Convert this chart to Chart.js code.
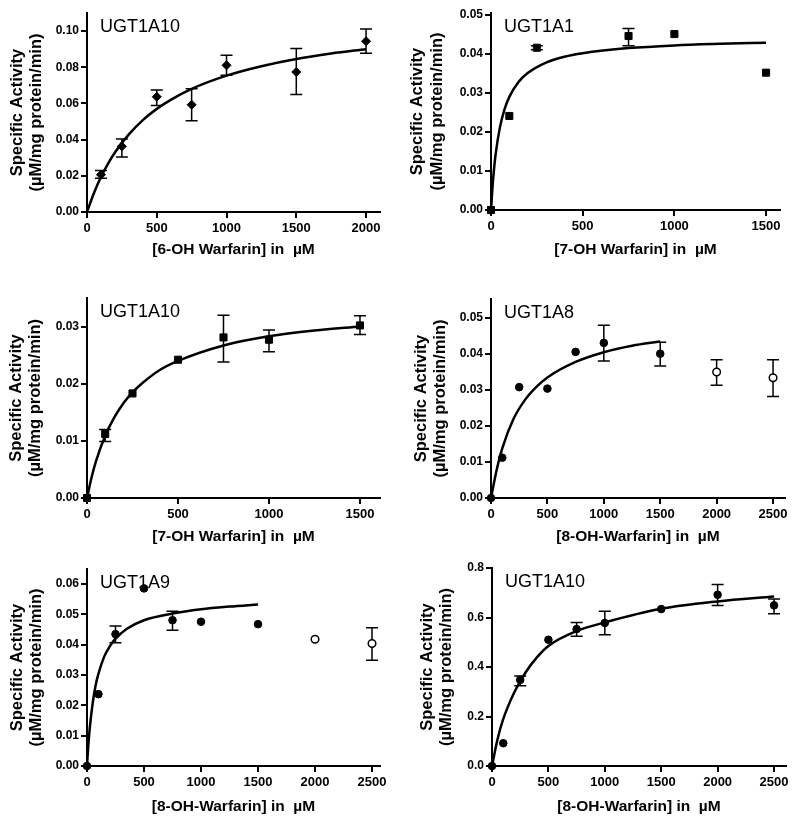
<!DOCTYPE html>
<html>
<head>
<meta charset="utf-8">
<script src="https://cdn.jsdelivr.net/npm/chart.js@4.4.0/dist/chart.umd.min.js"></script>
<style>
  body { margin: 0; background: #fff; }
  #wrap { position: relative; width: 800px; height: 826px; background: #fff; }
  #wrap canvas { position: absolute; }
</style>
</head>
<body>
<div id="wrap"></div>
<script>
const FONT = '"Liberation Sans", Arial, Helvetica, sans-serif';

const panelNames = ['UGT1A10', 'UGT1A1', 'UGT1A10', 'UGT1A8', 'UGT1A9', 'UGT1A10'];
const xTitles = [
  '[6-OH Warfarin] in  µM', '[7-OH Warfarin] in  µM', '[7-OH Warfarin] in  µM',
  '[8-OH-Warfarin] in  µM', '[8-OH-Warfarin] in  µM', '[8-OH-Warfarin] in  µM'
];
const yTitleLines = ['Specific Activity', '(µM/mg protein/min)'];

// panel 1 - UGT1A10, 6-OH
const p1X = [100, 250, 500, 750, 1000, 1500, 2000];
const p1Y = [0.0206, 0.0363, 0.0637, 0.0593, 0.0811, 0.0774, 0.0944];
const p1Lo = [0.0187, 0.0304, 0.0589, 0.0504, 0.0756, 0.0650, 0.0878];
const p1Hi = [0.0230, 0.0404, 0.0674, 0.0681, 0.0867, 0.0904, 0.1011];
const p1CurveX = [0, 50, 100, 150, 200, 300, 400, 500, 600, 750, 1000, 1250, 1500, 1750, 2000];
const p1CurveY = [0, 0.0105, 0.0193, 0.0266, 0.0329, 0.0429, 0.0508, 0.0570, 0.0620, 0.0681, 0.0754, 0.0806, 0.0846, 0.0876, 0.0900];
const p1XTicks = [0, 500, 1000, 1500, 2000];
const p1YTicks = [0, 0.02, 0.04, 0.06, 0.08, 0.10];

// panel 2 - UGT1A1, 7-OH
const p2X = [0, 100, 250, 750, 1000, 1500];
const p2Y = [0, 0.0241, 0.0416, 0.0446, 0.0451, 0.0352];
const p2Lo = [null, null, 0.0411, 0.0421, null, null];
const p2Hi = [null, null, 0.0421, 0.0465, null, null];
const p2CurveX = [0, 10, 25, 50, 75, 100, 150, 200, 300, 400, 500, 750, 1000, 1250, 1500];
const p2CurveY = [0, 0.0070, 0.0142, 0.0215, 0.0260, 0.0290, 0.0328, 0.0351, 0.0378, 0.0393, 0.0402, 0.0415, 0.0422, 0.0426, 0.0429];
const p2XTicks = [0, 500, 1000, 1500];
const p2YTicks = [0, 0.01, 0.02, 0.03, 0.04, 0.05];

// panel 3 - UGT1A10, 7-OH
const p3X = [0, 100, 250, 500, 750, 1000, 1500];
const p3Y = [0, 0.0112, 0.0183, 0.0242, 0.0281, 0.0277, 0.0302];
const p3Lo = [null, 0.0099, null, null, 0.0238, 0.0256, 0.0286];
const p3Hi = [null, 0.0120, null, null, 0.0320, 0.0294, 0.0319];
const p3CurveX = [0, 25, 50, 100, 150, 200, 250, 300, 400, 500, 750, 1000, 1250, 1500];
const p3CurveY = [0, 0.0036, 0.0065, 0.0109, 0.0141, 0.0166, 0.0185, 0.0200, 0.0224, 0.0240, 0.0267, 0.0283, 0.0293, 0.0300];
const p3XTicks = [0, 500, 1000, 1500];
const p3YTicks = [0, 0.01, 0.02, 0.03];

// panel 4 - UGT1A8, 8-OH
const p4X = [0, 100, 250, 500, 750, 1000, 1500];
const p4Y = [0, 0.0112, 0.0308, 0.0304, 0.0406, 0.0431, 0.0401];
const p4Lo = [null, null, null, null, null, 0.0381, 0.0367];
const p4Hi = [null, null, null, null, null, 0.0480, 0.0433];
const p4OpenX = [2000, 2500];
const p4OpenY = [0.0350, 0.0334];
const p4OpenLo = [0.0313, 0.0282];
const p4OpenHi = [0.0384, 0.0384];
const p4CurveX = [0, 50, 100, 200, 300, 400, 500, 750, 1000, 1250, 1500];
const p4CurveY = [0, 0.0078, 0.0138, 0.0220, 0.0272, 0.0308, 0.0335, 0.0378, 0.0405, 0.0423, 0.0435];
const p4XTicks = [0, 500, 1000, 1500, 2000, 2500];
const p4YTicks = [0, 0.01, 0.02, 0.03, 0.04, 0.05];

// panel 5 - UGT1A9, 8-OH
const p5X = [0, 100, 250, 500, 750, 1000, 1500];
const p5Y = [0, 0.0237, 0.0435, 0.0586, 0.0481, 0.0476, 0.0468];
const p5Lo = [null, null, 0.0407, null, 0.0448, null, null];
const p5Hi = [null, null, 0.0462, null, 0.0511, null, null];
const p5OpenX = [2000, 2500];
const p5OpenY = [0.0418, 0.0404];
const p5OpenLo = [null, 0.0349];
const p5OpenHi = [null, 0.0456];
const p5CurveX = [0, 10, 25, 50, 75, 100, 150, 200, 250, 350, 500, 750, 1000, 1250, 1500];
const p5CurveY = [0, 0.0060, 0.0128, 0.0208, 0.0265, 0.0304, 0.0360, 0.0395, 0.0420, 0.0453, 0.0481, 0.0503, 0.0517, 0.0526, 0.0533];
const p5XTicks = [0, 500, 1000, 1500, 2000, 2500];
const p5YTicks = [0, 0.01, 0.02, 0.03, 0.04, 0.05, 0.06];

// panel 6 - UGT1A10, 8-OH
const p6X = [0, 100, 250, 500, 750, 1000, 1500, 2000, 2500];
const p6Y = [0, 0.092, 0.348, 0.510, 0.553, 0.578, 0.634, 0.692, 0.649];
const p6Lo = [null, null, 0.324, null, 0.524, 0.530, null, 0.648, 0.615];
const p6Hi = [null, null, 0.364, null, 0.580, 0.625, null, 0.733, 0.675];
const p6CurveX = [0, 50, 100, 200, 300, 400, 500, 750, 1000, 1500, 2000, 2500];
const p6CurveY = [0, 0.110, 0.190, 0.300, 0.380, 0.440, 0.485, 0.545, 0.580, 0.635, 0.665, 0.685];
const p6XTicks = [0, 500, 1000, 1500, 2000, 2500];
const p6YTicks = [0, 0.2, 0.4, 0.6, 0.8];

// draws the error bars behind the markers
const errorBars = {
  id: 'errorBars',
  beforeDatasetsDraw(chart) {
    const { ctx, scales: { x, y } } = chart;
    ctx.save();
    ctx.strokeStyle = '#000';
    ctx.lineWidth = 1.5;
    chart.data.datasets.forEach(ds => {
      if (!ds.errLo) return;
      ds.data.forEach((p, i) => {
        if (ds.errLo[i] == null) return;
        const px = x.getPixelForValue(p.x);
        const yl = y.getPixelForValue(ds.errLo[i]);
        const yh = y.getPixelForValue(ds.errHi[i]);
        ctx.beginPath();
        ctx.moveTo(px, yl); ctx.lineTo(px, yh);
        ctx.moveTo(px - 6, yl); ctx.lineTo(px + 6, yl);
        ctx.moveTo(px - 6, yh); ctx.lineTo(px + 6, yh);
        ctx.stroke();
      });
    });
    ctx.restore();
  }
};

// enzyme name inside the plot area
const panelLabel = {
  id: 'panelLabel',
  afterDraw(chart, args, opts) {
    const { ctx, chartArea } = chart;
    ctx.save();
    ctx.font = '18px ' + FONT;
    ctx.fillStyle = '#000';
    ctx.textBaseline = 'middle';
    ctx.fillText(opts.text, chartArea.left + 13, chartArea.top + 14);
    ctx.restore();
  }
};

function pts(xs, ys) {
  return xs.map((x, i) => ({ x: x, y: ys[i] }));
}

function axis(isX, tickVals, max, size, decimals, title, titlePad) {
  return {
    type: 'linear',
    min: 0,
    max: max,
    afterBuildTicks: s => { s.ticks = tickVals.map(v => ({ value: v })); },
    afterFit: s => { if (isX) s.height = size; else s.width = size; },
    ticks: {
      color: '#000',
      font: { family: FONT, size: isX ? 13 : 12, weight: 'bold' },
      padding: isX ? 3 : 2,
      maxRotation: 0,
      autoSkip: false,
      callback: v => isX ? String(v) : Number(v).toFixed(decimals)
    },
    grid: { drawOnChartArea: false, drawTicks: true, tickLength: 6, color: '#000', lineWidth: 2 },
    border: { display: true, color: '#000', width: 2 },
    title: {
      display: true,
      text: title,
      color: '#000',
      font: { family: FONT, size: isX ? 15.5 : 16.5, weight: 'bold', lineHeight: isX ? 1.2 : 1.19 },
      padding: isX ? { top: 0, bottom: 6 } : { top: titlePad, bottom: 0 }
    }
  };
}

function makePanel(p) {
  const canvas = document.createElement('canvas');
  canvas.width = p.w;
  canvas.height = p.h;
  canvas.style.left = p.left + 'px';
  canvas.style.top = p.top + 'px';
  document.getElementById('wrap').appendChild(canvas);

  const datasets = [
    {
      data: pts(p.curveX, p.curveY),
      showLine: true,
      borderColor: '#000',
      borderWidth: 2.5,
      pointRadius: 0,
      cubicInterpolationMode: 'monotone',
      fill: false,
      order: 2
    },
    {
      data: pts(p.xs, p.ys),
      errLo: p.lo,
      errHi: p.hi,
      pointStyle: p.marker,
      pointRadius: p.marker === 'rect' ? 5 : (p.marker === 'rectRot' ? 4.5 : 3.8),
      backgroundColor: '#000',
      borderColor: '#000',
      borderWidth: 1,
      clip: false,
      order: 1
    }
  ];
  if (p.openX) {
    datasets.push({
      data: pts(p.openX, p.openY),
      errLo: p.openLo,
      errHi: p.openHi,
      pointStyle: 'circle',
      pointRadius: 3.8,
      backgroundColor: '#fff',
      borderColor: '#000',
      borderWidth: 1.5,
      order: 0
    });
  }

  new Chart(canvas, {
    type: 'scatter',
    data: { datasets: datasets },
    options: {
      responsive: false,
      animation: false,
      layout: { padding: { top: p.padTop, right: p.padRight, left: 0, bottom: 0 } },
      scales: {
        x: axis(true, p.xTicks, p.xMax, p.xHeight, 0, p.xTitle, 0),
        y: axis(false, p.yTicks, p.yMax, p.yWidth, p.dec, yTitleLines, p.yTitlePad)
      },
      plugins: {
        legend: { display: false },
        tooltip: { enabled: false },
        panelLabel: { text: p.name }
      }
    },
    plugins: [errorBars, panelLabel]
  });
}

makePanel({ left: 0, top: 0, w: 400, h: 265, padTop: 13, padRight: 20, yWidth: 87, xHeight: 53, yTitlePad: 7.5,
  name: panelNames[0], xTitle: xTitles[0], xs: p1X, ys: p1Y, lo: p1Lo, hi: p1Hi, marker: 'rectRot',
  curveX: p1CurveX, curveY: p1CurveY, xTicks: p1XTicks, yTicks: p1YTicks, xMax: 2100, yMax: 0.11, dec: 2 });

makePanel({ left: 400, top: 0, w: 400, h: 265, padTop: 13, padRight: 20, yWidth: 91, xHeight: 55, yTitlePad: 8,
  name: panelNames[1], xTitle: xTitles[1], xs: p2X, ys: p2Y, lo: p2Lo, hi: p2Hi, marker: 'rect',
  curveX: p2CurveX, curveY: p2CurveY, xTicks: p2XTicks, yTicks: p2YTicks, xMax: 1576, yMax: 0.0505, dec: 2 });

makePanel({ left: 0, top: 270, w: 400, h: 282, padTop: 28, padRight: 20, yWidth: 87, xHeight: 54, yTitlePad: 6.5,
  name: panelNames[2], xTitle: xTitles[2], xs: p3X, ys: p3Y, lo: p3Lo, hi: p3Hi, marker: 'rect',
  curveX: p3CurveX, curveY: p3CurveY, xTicks: p3XTicks, yTicks: p3YTicks, xMax: 1610, yMax: 0.035, dec: 2 });

makePanel({ left: 400, top: 270, w: 400, h: 282, padTop: 29, padRight: 15, yWidth: 91, xHeight: 54, yTitlePad: 11.5,
  name: panelNames[3], xTitle: xTitles[3], xs: p4X, ys: p4Y, lo: p4Lo, hi: p4Hi, marker: 'circle',
  openX: p4OpenX, openY: p4OpenY, openLo: p4OpenLo, openHi: p4OpenHi,
  curveX: p4CurveX, curveY: p4CurveY, xTicks: p4XTicks, yTicks: p4YTicks, xMax: 2606, yMax: 0.0553, dec: 2 });

makePanel({ left: 0, top: 540, w: 400, h: 282, padTop: 29, padRight: 20, yWidth: 87, xHeight: 56, yTitlePad: 7.5,
  name: panelNames[4], xTitle: xTitles[4], xs: p5X, ys: p5Y, lo: p5Lo, hi: p5Hi, marker: 'circle',
  openX: p5OpenX, openY: p5OpenY, openLo: p5OpenLo, openHi: p5OpenHi,
  curveX: p5CurveX, curveY: p5CurveY, xTicks: p5XTicks, yTicks: p5YTicks, xMax: 2570, yMax: 0.065, dec: 2 });

makePanel({ left: 400, top: 540, w: 400, h: 282, padTop: 28, padRight: 14, yWidth: 92, xHeight: 56, yTitlePad: 17.5,
  name: panelNames[5], xTitle: xTitles[5], xs: p6X, ys: p6Y, lo: p6Lo, hi: p6Hi, marker: 'circle',
  curveX: p6CurveX, curveY: p6CurveY, xTicks: p6XTicks, yTicks: p6YTicks, xMax: 2606, yMax: 0.8, dec: 1 });
</script>
</body>
</html>
